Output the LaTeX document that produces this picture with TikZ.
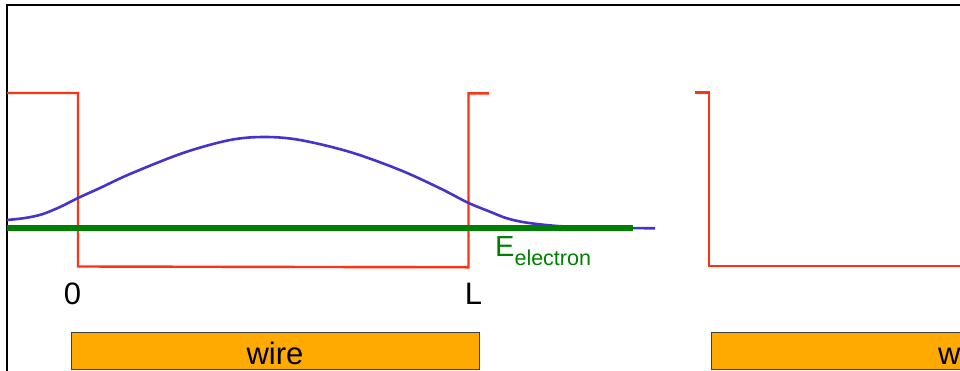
\documentclass[tikz,border=0pt]{standalone}
\usepackage{fontspec}
\setmainfont{Liberation Sans}
\definecolor{wellred}{HTML}{FF3311}
\definecolor{wavblue}{HTML}{4433CC}
\definecolor{levgreen}{HTML}{008000}
\definecolor{wireorange}{HTML}{FFAA00}
\begin{document}
\begin{tikzpicture}[x=1pt,y=-1pt,
  potential/.style={wellred,line width=2.4pt,line join=miter},
  wirebox/.style={draw=black!75,fill=wireorange,line width=1pt,minimum height=37pt,
    inner sep=0pt,text height=27pt,text depth=0pt,font=\fontsize{31}{32}\selectfont},
  axislabel/.style={inner sep=0pt,font=\fontsize{31}{32}\selectfont}]
\useasboundingbox (0,0) rectangle (960,370);
\clip (0,0) rectangle (960,370);
\draw[black,line width=1.8pt] (7,380)--(7,5)--(970,5);
% first well
\draw[potential] (7,93)--(78,93)--(78,266.5)--(468.5,267.3)--(468.5,93.3)--(489,93.3);
% second well
\draw[potential] (695,92.3)--(709,92.3)--(709,266)--(970,266);
% wave function and level
\draw[wavblue,line width=2.6pt] plot[smooth,tension=0.55] coordinates {(7,220) (25,218)
  (42,214.3) (60,207) (78,198) (100,188) (130,174) (183,153) (230,140) (265,137) (300,140)
  (350,152) (400,170) (440,188.3) (468,202.7) (490,211.7) (507,218.3) (527,222.7) (560,226.2)
  (600,227.6) (655,228.3)};
\draw[levgreen,line width=5.8pt] (7,228.3)--(633,228.3);
\node[levgreen,inner sep=0pt,anchor=base west] (elevel) at (495,256)
  {\fontsize{29}{30}\selectfont E\raisebox{-9pt}{\fontsize{21.5}{23}\selectfont electron}};
\node[axislabel] (zero) at (72.5,293.5) {0};
\node[axislabel] (len) at (473.5,293.5) {L};
\node[wirebox,minimum width=408pt] (wireA) at (275,350.5) {wire};
\node[wirebox,minimum width=511pt] (wireB) at (966.5,350.5) {wire};
\end{tikzpicture}
\end{document}
